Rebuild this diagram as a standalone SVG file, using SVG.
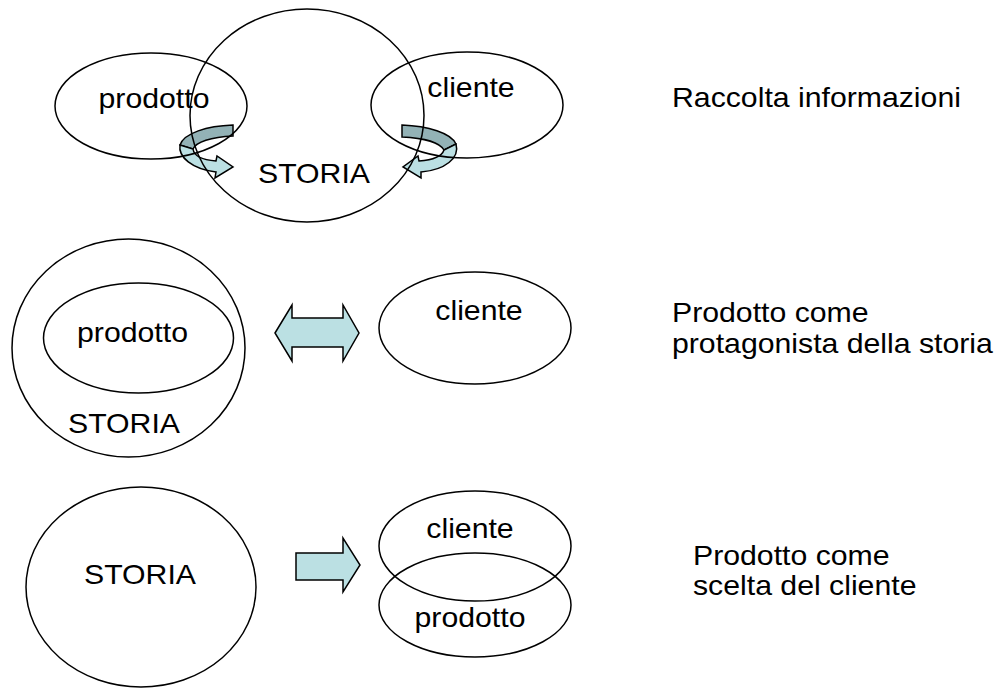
<svg xmlns="http://www.w3.org/2000/svg" width="1004" height="688" viewBox="0 0 1004 688">
<style>
.sh{fill:none;stroke:#000;stroke-width:1.5}
.ar{fill:#BBE0E3;stroke:#000;stroke-width:1.5;stroke-linejoin:miter}
.bk{fill:#93B2B6;stroke:#000;stroke-width:1.5}
.t{font-family:"Liberation Sans",Arial,sans-serif;font-size:28px;fill:#000}
.m{text-anchor:middle}
</style>
<rect width="1004" height="688" fill="#fff"/>
<g id="connectors">
  <path class="bk" d="M233,125 C207,126 184,133 180,145 L193,149 C196,142 211,137 233,136 Z"/>
  <path class="ar" d="M180,145 C178,157 192,169 216,172 L215,178 L233,167 L217,156 L216,161 C203,160 194,156 193,149 Z"/>
  <path class="bk" d="M402,125 C428,126 451,133 456,144 L444,150 C440,143 425,138 402,137 Z"/>
  <path class="ar" d="M456,144 C460,158 445,170 421,172 L421,178 L403,167 L418,156 L419,161 C433,160 442,156 444,150 Z"/>
  <path class="ar" d="M275,333 L292,305 L292,318 L343,318 L343,305 L359,333 L343,361 L343,347 L292,347 L292,361 Z"/>
  <path class="ar" d="M296,553 L343,553 L343,538 L360,565 L343,592 L343,580 L296,580 Z"/>
</g>
<g id="row1-prodotto"><ellipse class="sh" cx="151" cy="106" rx="96" ry="53"/><text class="t m" transform="translate(154,108) scale(1.08,1)">prodotto</text></g>
<g id="row1-storia"><ellipse class="sh" cx="307" cy="115.5" rx="117" ry="106.5"/><text class="t m" transform="translate(314,183) scale(1.08,1)">STORIA</text></g>
<g id="row1-cliente"><ellipse class="sh" cx="467" cy="105" rx="96" ry="53"/><text class="t m" transform="translate(471,97) scale(1.08,1)">cliente</text></g>
<g id="row1-label"><text class="t" transform="translate(672,107) scale(1.08,1)">Raccolta informazioni</text></g>

<g id="row2-storia"><ellipse class="sh" cx="128.5" cy="348" rx="116.5" ry="109"/><text class="t m" transform="translate(124,433) scale(1.08,1)">STORIA</text></g>
<g id="row2-prodotto"><ellipse class="sh" cx="138.5" cy="338" rx="95" ry="55"/><text class="t m" transform="translate(132.5,342) scale(1.08,1)">prodotto</text></g>
<g id="row2-cliente"><ellipse class="sh" cx="475" cy="328" rx="96" ry="56"/><text class="t m" transform="translate(479,320) scale(1.08,1)">cliente</text></g>
<g id="row2-label"><text class="t" transform="translate(672,322) scale(1.08,1)">Prodotto come</text><text class="t" transform="translate(672,353) scale(1.08,1)">protagonista della storia</text></g>

<g id="row3-storia"><ellipse class="sh" cx="141" cy="587" rx="115" ry="100"/><text class="t m" transform="translate(140,584) scale(1.08,1)">STORIA</text></g>
<g id="row3-cliente"><ellipse class="sh" cx="475" cy="546" rx="96" ry="55"/><text class="t m" transform="translate(470,538) scale(1.08,1)">cliente</text></g>
<g id="row3-prodotto"><ellipse class="sh" cx="475" cy="605" rx="96" ry="52"/><text class="t m" transform="translate(470,627) scale(1.08,1)">prodotto</text></g>
<g id="row3-label"><text class="t" transform="translate(693,565) scale(1.08,1)">Prodotto come</text><text class="t" transform="translate(693,595) scale(1.08,1)">scelta del cliente</text></g>
</svg>
